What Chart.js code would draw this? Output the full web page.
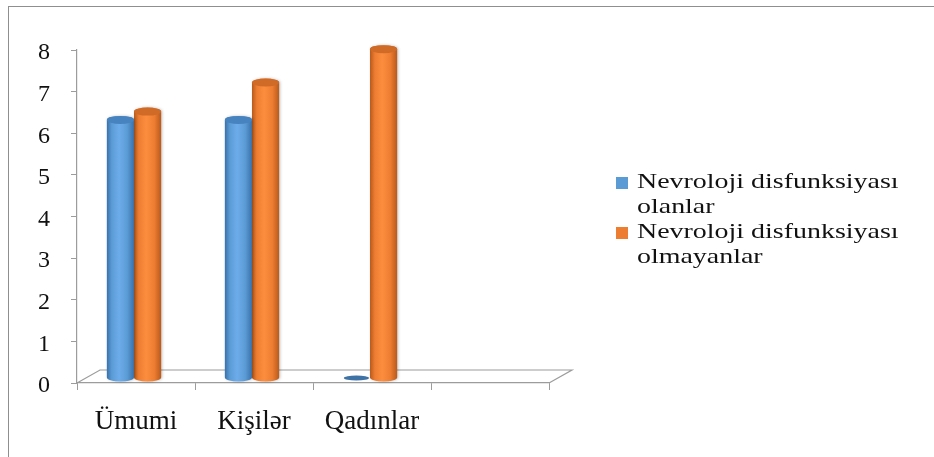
<!DOCTYPE html>
<html>
<head>
<meta charset="utf-8">
<script src="https://cdn.jsdelivr.net/npm/chart.js@4.4.1/dist/chart.umd.min.js"></script>
<style>
    html, body { margin: 0; padding: 0; background: #fff; }
    #wrap { position: relative; width: 934px; height: 457px; overflow: hidden; }
    #frame { position: absolute; left: 8px; top: 6px; width: 960px; height: 480px;
             border-top: 1px solid #8f8f8f; border-left: 1px solid #8f8f8f; }
    #myChart { position: absolute; left: 0; top: 0; }
    #legend { position: absolute; left: 616px; top: 168px; font-family: 'Liberation Serif', serif;
              font-size: 22px; line-height: 25px; color: #111; }
    #legend .item { position: relative; height: 50px; }
    #legend .box { position: absolute; left: 0; top: 9px; width: 12px; height: 12px; }
    #legend .txt { position: absolute; left: 21px; top: 0; width: 215px;
                   transform: scaleX(1.27); transform-origin: left top; }
</style>
</head>
<body>
<div id="wrap">
    <div id="frame"></div>
    <canvas id="myChart" width="934" height="457"></canvas>
    <div id="legend"></div>
</div>
<script>
/** 分类 */
var labels = ['Ümumi', 'Kişilər', 'Qadınlar', '']
/** 两组数据 */
var seriesNames = ['Nevroloji disfunksiyası olanlar', 'Nevroloji disfunksiyası olmayanlar']
var olanlar = [6.2, 6.2, 0, null]
var olmayanlar = [6.4, 7.1, 7.9, null]
/** 纵坐标 */
var yTicks = [0, 1, 2, 3, 4, 5, 6, 7, 8]

var page = {
    colors: [
        { base: '#5b9bd5', dark: '#3a71aa', light: '#6dacea', cap: '#4783bf', disc: '#3f73a6' },
        { base: '#ed7d31', dark: '#b95a1c', light: '#fd8d3e', cap: '#cf6a27', disc: '#c0621f' }
    ],
    // 地板的透视偏移
    depth: { dx: 23, dy: -13 },
    barShift: { dx: -2, dy: -5 },
    init: function () {
        page.funcs.createChart()
        page.funcs.renderLegend()
    },
    funcs: {
        drawFloor: function (chart) {
            var ctx = chart.ctx, a = chart.chartArea, d = page.depth
            ctx.save()
            ctx.strokeStyle = '#9c9c9c'
            ctx.lineWidth = 1.2
            ctx.beginPath()
            ctx.moveTo(a.left, a.bottom)
            ctx.lineTo(a.left + d.dx, a.bottom + d.dy)
            ctx.lineTo(a.right + d.dx, a.bottom + d.dy)
            ctx.lineTo(a.right, a.bottom)
            ctx.stroke()
            ctx.restore()
        },
        drawCylinder: function (ctx, bar, c) {
            var s = page.barShift
            var w = bar.width, rx = w / 2, ry = 4
            var cx = bar.x + s.dx, x0 = cx - rx
            var top = bar.y + s.dy, bot = bar.base + s.dy
            if (bot - top < 1) {
                // 值为0时只画底面
                ctx.fillStyle = c.disc
                ctx.beginPath()
                ctx.ellipse(cx, bot, rx - 1, ry - 1.5, 0, 0, Math.PI * 2)
                ctx.fill()
                return
            }
            var g = ctx.createLinearGradient(x0, 0, x0 + w, 0)
            g.addColorStop(0, c.dark)
            g.addColorStop(0.18, c.base)
            g.addColorStop(0.45, c.light)
            g.addColorStop(0.75, c.base)
            g.addColorStop(1, c.dark)
            ctx.save()
            ctx.shadowColor = 'rgba(0,0,0,0.25)'
            ctx.shadowBlur = 3
            ctx.shadowOffsetX = 1
            ctx.fillStyle = g
            ctx.beginPath()
            ctx.moveTo(x0, top)
            ctx.lineTo(x0, bot)
            ctx.ellipse(cx, bot, rx, ry, 0, Math.PI, 0, true)
            ctx.lineTo(x0 + w, top)
            ctx.ellipse(cx, top, rx, ry, 0, 0, Math.PI, true)
            ctx.closePath()
            ctx.fill()
            ctx.restore()
            // 顶面
            ctx.fillStyle = c.cap
            ctx.beginPath()
            ctx.ellipse(cx, top, rx, ry, 0, 0, Math.PI * 2)
            ctx.fill()
        },
        createChart: function () {
            var font = { family: "'Liberation Serif', serif" }
            var cylinders = {
                id: 'cylinders',
                beforeDatasetsDraw: function (chart) {
                    page.funcs.drawFloor(chart)
                },
                beforeDatasetDraw: function (chart, args) {
                    var c = page.colors[args.index]
                    args.meta.data.forEach(function (bar, i) {
                        var v = chart.data.datasets[args.index].data[i]
                        if (v === null || v === undefined) return
                        page.funcs.drawCylinder(chart.ctx, bar, c)
                    })
                    return false
                }
            }
            var ctx = document.getElementById('myChart').getContext('2d')
            page.chart = new Chart(ctx, {
                type: 'bar',
                data: {
                    labels: labels,
                    datasets: [
                        { label: seriesNames[0], data: olanlar, backgroundColor: page.colors[0].base },
                        { label: seriesNames[1], data: olmayanlar, backgroundColor: page.colors[1].base }
                    ]
                },
                options: {
                    responsive: false,
                    animation: false,
                    categoryPercentage: 0.46,
                    barPercentage: 1,
                    layout: { padding: { top: 50, right: 385, bottom: 0, left: 0 } },
                    plugins: { legend: { display: false }, tooltip: { enabled: false } },
                    scales: {
                        x: {
                            afterFit: function (scale) { scale.height = 74 },
                            border: { display: true, color: '#9c9c9c', width: 1.2 },
                            grid: { drawOnChartArea: false, drawTicks: true, tickLength: 7, color: '#9c9c9c', offset: true },
                            ticks: { color: '#111', padding: 16, font: Object.assign({ size: 27 }, font) }
                        },
                        y: {
                            min: yTicks[0],
                            max: yTicks[yTicks.length - 1],
                            afterFit: function (scale) { scale.width = 77 },
                            afterBuildTicks: function (scale) {
                                scale.ticks = yTicks.map(function (v) { return { value: v } })
                            },
                            border: { display: true, color: '#9c9c9c', width: 1.2 },
                            grid: { drawOnChartArea: false, drawTicks: true, tickLength: 6, color: '#9c9c9c' },
                            ticks: { color: '#111', padding: 21, labelOffset: 3, font: Object.assign({ size: 24 }, font) }
                        }
                    }
                },
                plugins: [cylinders]
            })
        },
        renderLegend: function () {
            var html = ''
            page.chart.data.datasets.forEach(function (ds) {
                html += '<div class="item"><span class="box" style="background:' + ds.backgroundColor + '"></span>' +
                    '<span class="txt">' + ds.label + '</span></div>'
            })
            document.getElementById('legend').innerHTML = html
        }
    }
}
page.init()
</script>
</body>
</html>
